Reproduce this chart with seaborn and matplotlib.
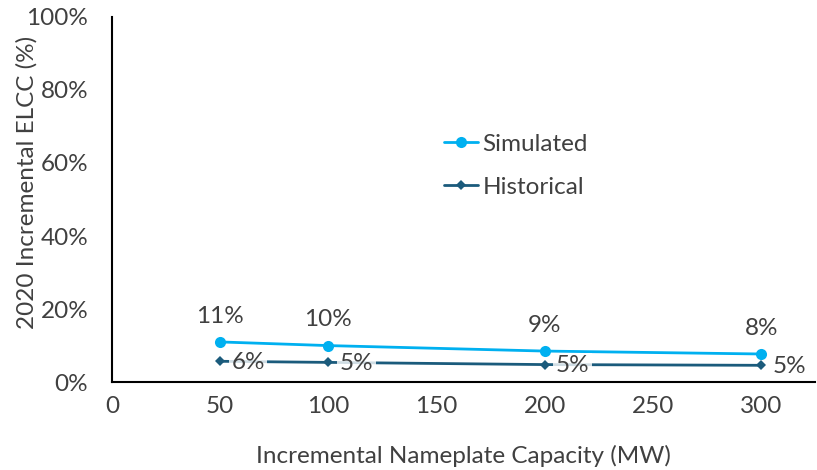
import matplotlib
matplotlib.use("Agg")
import matplotlib.pyplot as plt
import seaborn as sns
import pandas as pd
from matplotlib.ticker import PercentFormatter

capacity = [50, 100, 200, 300]
simulated = [0.110, 0.100, 0.085, 0.077]
historical = [0.057, 0.054, 0.048, 0.046]
sim_labels = ["11%", "10%", "9%", "8%"]
hist_labels = ["6%", "5%", "5%", "5%"]

sns.set_style("white")
plt.rcParams['font.family'] = ['Lato', 'DejaVu Sans']

df = pd.DataFrame({
    "capacity": capacity * 2,
    "elcc": simulated + historical,
    "series": ["Simulated"] * 4 + ["Historical"] * 4,
})

fig = plt.figure(figsize=(8.17, 4.70), dpi=100)
ax = fig.add_axes([0.137, 0.187, 0.861, 0.777])

sim_color = "#00B0F0"
hist_color = "#1B5B7C"
txt = "#404040"
fs = 17.5

sns.lineplot(data=df[df.series == "Simulated"], x="capacity", y="elcc", ax=ax,
             color=sim_color, marker="o", markersize=8, markeredgewidth=0,
             linewidth=2, label="Simulated")
sns.lineplot(data=df[df.series == "Historical"], x="capacity", y="elcc", ax=ax,
             color=hist_color, marker="D", markersize=5, markeredgewidth=0,
             linewidth=2, label="Historical")

for x, y, s in zip(capacity, simulated, sim_labels):
    ax.annotate(s, (x, y), xytext=(0, 11), textcoords="offset points",
                ha="center", va="bottom", fontsize=fs, color=txt)
for x, y, s in zip(capacity, historical, hist_labels):
    ax.annotate(s, (x, y), xytext=(8, -1), textcoords="offset points",
                ha="left", va="center", fontsize=fs, color=txt,
                bbox=dict(boxstyle="square,pad=0.1", fc="white", ec="none", alpha=0.8))

ax.set_xlim(0, 325)
ax.set_ylim(0, 1)
ax.set_xticks([0, 50, 100, 150, 200, 250, 300])
ax.set_yticks([0, 0.2, 0.4, 0.6, 0.8, 1.0])
ax.yaxis.set_major_formatter(PercentFormatter(1.0, decimals=0))
ax.tick_params(axis="both", labelsize=fs, colors=txt, length=0)
ax.tick_params(axis="y", pad=17)
ax.tick_params(axis="x", pad=10)
ax.set_xlabel("Incremental Nameplate Capacity (MW)", fontsize=fs, color=txt, labelpad=20)
ax.set_ylabel("2020 Incremental ELCC (%)", fontsize=fs, color=txt)
ax.yaxis.set_label_coords(-0.106, 0.548)

for side in ["top", "right"]:
    ax.spines[side].set_visible(False)
for side in ["left", "bottom"]:
    ax.spines[side].set_color("black")
    ax.spines[side].set_linewidth(1.5)

leg = ax.legend(loc="center", bbox_to_anchor=(0.574, 0.592), frameon=False,
                fontsize=fs, handlelength=1.4, handletextpad=0.2, labelspacing=0.9,
                labelcolor=txt)

fig.savefig("out.png", dpi=100)
